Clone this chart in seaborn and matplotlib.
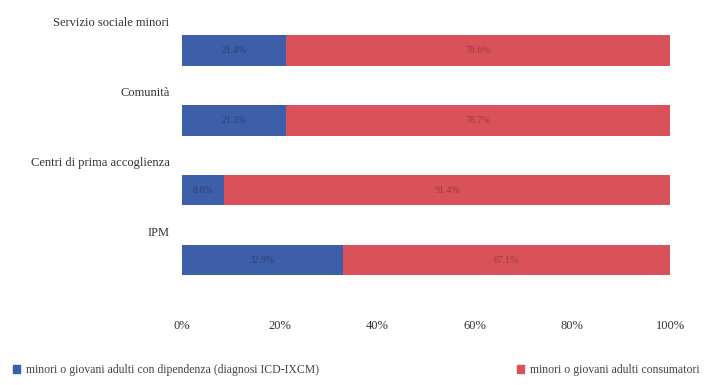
import matplotlib
matplotlib.use("Agg")
import matplotlib.pyplot as plt
import seaborn as sns
import pandas as pd
from matplotlib.patches import Patch

categories = ["Servizio sociale minori", "Comunità", "Centri di prima accoglienza", "IPM"]
dipendenza = [21.4, 21.3, 8.6, 32.9]
consumatori = [78.6, 78.7, 91.4, 67.1]
xticks = [0, 20, 40, 60, 80, 100]
xtick_labels = ["0%", "20%", "40%", "60%", "80%", "100%"]
series_names = ["minori o giovani adulti con dipendenza (diagnosi ICD-IXCM)",
                "minori o giovani adulti consumatori"]

BLUE = "#3d5ea8"
RED = "#d9525a"

sns.set_theme(style="white")
plt.rcParams["font.family"] = ["Liberation Serif", "DejaVu Serif"]

df = pd.DataFrame({"cat": categories, "dip": dipendenza, "con": consumatori})
df["tot"] = df["dip"] + df["con"]

fig = plt.figure(figsize=(7.23, 3.85), dpi=100)
ax = fig.add_axes([0.2517, 0.22, 0.675, 0.727])

sns.barplot(data=df, x="tot", y="cat", color=RED, width=0.43, saturation=1, ax=ax,
            orient="h", linewidth=0)
sns.barplot(data=df, x="dip", y="cat", color=BLUE, width=0.43, saturation=1, ax=ax,
            orient="h", linewidth=0)

for i, (d, c) in enumerate(zip(dipendenza, consumatori)):
    ax.text(d / 2, i, f"{d:.1f}%", ha="center", va="center", fontsize=7, color="#2c3f78")
    ax.text(d + c / 2, i, f"{c:.1f}%", ha="center", va="center", fontsize=7, color="#9a3a45")
    ax.annotate(categories[i], xy=(0, i), xycoords=("axes fraction", "data"),
                xytext=(-9, 19.5), textcoords="offset points", ha="right", va="center",
                fontsize=9, color="#333333")

ax.set_xlim(0, 100)
ax.set_ylim(3.57, -0.43)
ax.set_xticks(xticks)
ax.set_xticklabels(xtick_labels, fontsize=9, color="#333333")
ax.set_yticks([])
ax.set_xlabel("")
ax.set_ylabel("")
ax.tick_params(axis="x", length=0, pad=14)
for s in ax.spines.values():
    s.set_visible(False)

handles = [Patch(color=BLUE), Patch(color=RED)]
fig.legend(handles, series_names, loc="lower left", bbox_to_anchor=(0.003, -0.005),
           ncol=2, frameon=False, fontsize=8.5, handlelength=0.6, handleheight=0.6,
           handletextpad=0.5, columnspacing=16.8, labelcolor="#444444")

fig.savefig("out.png", dpi=100)
